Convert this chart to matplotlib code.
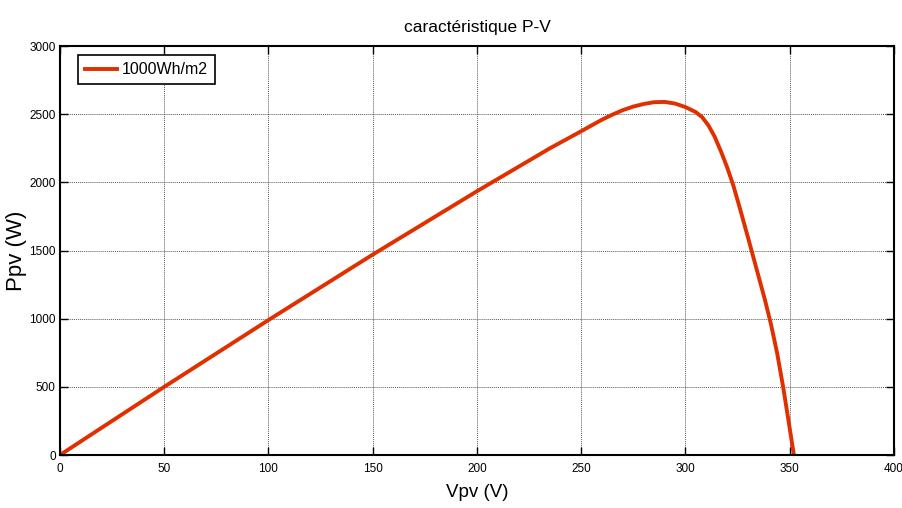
import matplotlib
matplotlib.use("Agg")
import matplotlib.pyplot as plt

# P-V curve
vpv = [0, 50, 100, 150, 200, 225, 235, 250, 255, 260, 265, 270, 275, 280, 285,
       290, 295, 300, 305, 308, 311, 314, 317, 320, 323, 326, 330, 334, 338,
       341, 344, 347, 350, 352]
ppv = [0, 500, 990, 1470, 1935, 2160, 2250, 2375, 2418, 2460, 2497, 2530, 2556,
       2575, 2588, 2590, 2578, 2552, 2515, 2478, 2418, 2335, 2228, 2110, 1975,
       1815, 1595, 1370, 1145, 960, 745, 485, 195, 0]

xticks = [0, 50, 100, 150, 200, 250, 300, 350, 400]
yticks = [0, 500, 1000, 1500, 2000, 2500, 3000]

plt.rcParams['font.family'] = ['Liberation Sans', 'DejaVu Sans']

fig = plt.figure(figsize=(9.03, 5.08), dpi=100)
ax = fig.add_axes([0.0664, 0.1043, 0.9236, 0.8051])

ax.plot(vpv, ppv, color='#e03000', linewidth=2.8, label='1000Wh/m2',
        solid_joinstyle='round')

ax.set_xlim(0, 400)
ax.set_ylim(0, 3000)
ax.set_xticks(xticks)
ax.set_yticks(yticks)
ax.tick_params(direction='in', length=6, width=1, top=True, right=True,
               labelsize=8.5)
ax.tick_params(axis='x', pad=6)
ax.tick_params(axis='y', pad=3)
for s in ax.spines.values():
    s.set_linewidth(1.5)

ax.grid(True, color='0.35', linestyle=(0, (1, 1)), linewidth=0.7)

ax.set_title('caractéristique P-V', fontsize=12.5, pad=10)
ax.set_xlabel('Vpv (V)', fontsize=13.5, labelpad=6)
ax.set_ylabel('Ppv (W)', fontsize=16, labelpad=2)

leg = ax.legend(loc='upper left', fontsize=11.5, frameon=True, fancybox=False,
                handlelength=2.0, handletextpad=0.3, borderpad=0.45,
                borderaxespad=0, bbox_to_anchor=(0.0216, 0.978))
leg.get_frame().set_edgecolor('black')
leg.get_frame().set_linewidth(1.2)
leg.get_frame().set_alpha(1)

fig.savefig('out.png', dpi=100)
